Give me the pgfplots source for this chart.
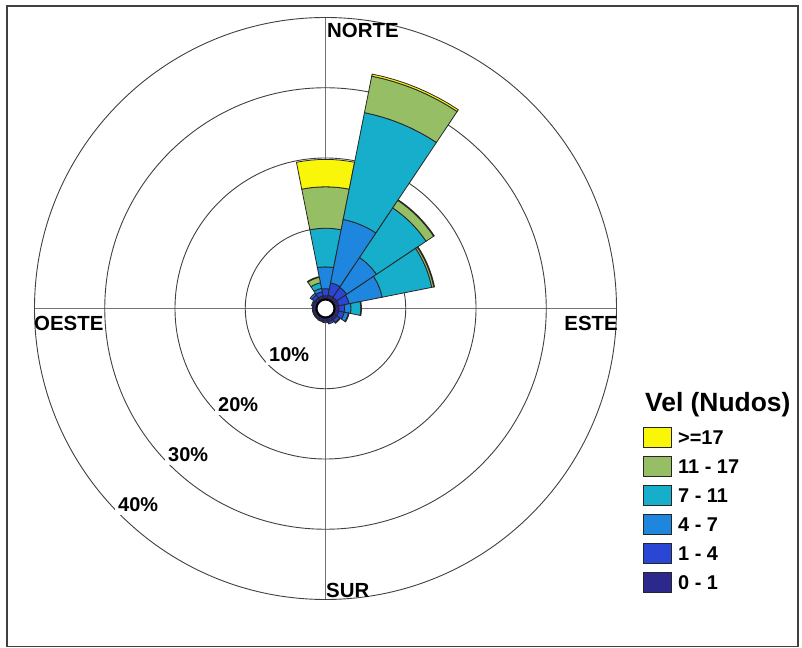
\documentclass[border=0pt]{standalone}
\usepackage{pgfplots}
\usepackage{pgfplotstable}
\pgfplotsset{compat=1.18}
\usepackage{fontspec}
\setmainfont{Liberation Sans}

\definecolor{cA}{RGB}{44,40,140}   % 0-1
\definecolor{cB}{RGB}{42,70,212}   % 1-4
\definecolor{cC}{RGB}{30,134,222}  % 4-7
\definecolor{cD}{RGB}{22,174,202}  % 7-11
\definecolor{cE}{RGB}{150,190,100} % 11-17
\definecolor{cF}{RGB}{250,246,10}  % >=17

% percentage of time per direction (16 sectors, from N clockwise) and speed class
\pgfplotstableread{
dir c1 c2 c3 c4 c5 c6
0  0.40 1.00 3.10 5.50 5.90 3.90
1  0.50 1.80 9.20 15.50 5.30 0.30
2  0.50 1.70 5.10 8.50 1.30 0.10
3  0.50 1.50 4.80 7.20 0.30 0.10
4  0.50 0.80 0.90 1.40 0.10 0.00
5  0.50 0.80 0.60 0.10 0.00 0.00
6  0.50 0.50 0.10 0.00 0.00 0.00
7  0.50 0.30 0.00 0.00 0.00 0.00
8  0.40 0.20 0.00 0.00 0.00 0.00
9  0.40 0.10 0.00 0.00 0.00 0.00
10 0.35 0.10 0.00 0.00 0.00 0.00
11 0.35 0.10 0.00 0.00 0.00 0.00
12 0.35 0.10 0.00 0.00 0.00 0.00
13 0.40 0.20 0.00 0.00 0.00 0.00
14 0.40 0.50 0.30 0.00 0.00 0.00
15 0.40 0.60 0.50 0.80 0.80 0.10
}\windtable

\newcommand\cx{325.5}
\newcommand\cy{339.5}
\newcommand\rzero{10}
\newcommand\kscale{7.025}

% build the sector polygons from the table
\gdef\allplots{}
\foreach \d in {0,...,15}{%
  \xdef\cum{0}%
  \foreach \c in {1,...,6}{%
    \pgfplotstablegetelem{\d}{c\c}\of\windtable
    \let\val\pgfplotsretval
    \pgfmathsetmacro\rin{\rzero+\kscale*\cum}%
    \pgfmathsetmacro\newcum{\cum+\val}%
    \xdef\cum{\newcum}%
    \pgfmathsetmacro\rout{\rzero+\kscale*\cum}%
    \edef\col{\ifcase\c\or cA\or cB\or cC\or cD\or cE\or cF\fi}%
    \ifdim\val pt>0pt
      \gdef\coords{}%
      \foreach \k in {0,...,8}{%
        \pgfmathsetmacro\ang{22.5*\d-11.25+2.8125*\k}%
        \pgfmathsetmacro\px{\cx+\rout*sin(\ang)}%
        \pgfmathsetmacro\py{\cy+\rout*cos(\ang)}%
        \xdef\coords{\coords (\px,\py)}%
      }%
      \foreach \k in {8,7,...,0}{%
        \pgfmathsetmacro\ang{22.5*\d-11.25+2.8125*\k}%
        \pgfmathsetmacro\px{\cx+\rin*sin(\ang)}%
        \pgfmathsetmacro\py{\cy+\rin*cos(\ang)}%
        \xdef\coords{\coords (\px,\py)}%
      }%
      \xdef\allplots{\unexpanded\expandafter{\allplots}%
        \noexpand\addplot[fill=\col, draw=black!85, line width=0.8bp] coordinates {\coords} -- cycle;}%
    \fi
  }%
}

\begin{document}
\begin{tikzpicture}
\begin{axis}[
  width=802bp, height=648bp, scale only axis,
  xmin=0, xmax=802, ymin=0, ymax=648,
  hide axis, clip=false]

% full picture area
\path (axis cs:0,0) rectangle (axis cs:802,648);

% frame
\draw[line width=1.5bp, black!75] (axis cs:7,642) rectangle (axis cs:798,1.5);

% radial lines
\draw[line width=0.7bp, black!55] (axis cs:\cx,\cy-291) -- (axis cs:\cx,\cy+291);
\draw[line width=0.7bp, black!55] (axis cs:\cx-291,\cy) -- (axis cs:\cx+291,\cy);

% circles 10, 20, 30, 40 %
\draw[line width=0.9bp, black!75] (axis cs:\cx,\cy) circle[radius=80.25];
\draw[line width=0.9bp, black!75] (axis cs:\cx,\cy) circle[radius=150.5];
\draw[line width=0.9bp, black!75] (axis cs:\cx,\cy) circle[radius=220.75];
\draw[line width=0.9bp, black!75] (axis cs:\cx,\cy) circle[radius=291];

% percent labels
\begin{scope}[every node/.style={anchor=base west, fill=white, inner sep=3bp,
   font=\bfseries\fontsize{20}{24}\selectfont}]
\node at (axis cs:266,286) {10\%};
\node at (axis cs:215,236) {20\%};
\node at (axis cs:165,186) {30\%};
\node at (axis cs:115,136) {40\%};
\end{scope}

% sectors
\allplots

% central hole
\draw[line width=2bp, black, fill=white] (axis cs:\cx,\cy) circle[radius=9];

% direction labels
\begin{scope}[every node/.style={inner sep=0pt, font=\bfseries\fontsize{20.5}{24}\selectfont}]
\node[anchor=base west] at (axis cs:327,610) {NORTE};
\node[anchor=base west] at (axis cs:34,317) {OESTE};
\node[anchor=base east] at (axis cs:618,317) {ESTE};
\node[anchor=base west] at (axis cs:326,50) {SUR};
\end{scope}

% legend
\node[anchor=base west, inner sep=0pt, font=\bfseries\fontsize{26.5}{30}\selectfont]
  at (axis cs:645,236) {Vel (Nudos)};
\begin{scope}[every node/.style={anchor=base west, inner sep=0pt, font=\bfseries\fontsize{20}{24}\selectfont}]
\draw[fill=cF, draw=black!85, line width=0.8bp] (axis cs:643,221) rectangle (axis cs:671,201);
\node at (axis cs:678,203) {>=17};
\draw[fill=cE, draw=black!85, line width=0.8bp] (axis cs:643,192) rectangle (axis cs:671,172);
\node at (axis cs:678,174) {11 - 17};
\draw[fill=cD, draw=black!85, line width=0.8bp] (axis cs:643,163) rectangle (axis cs:671,143);
\node at (axis cs:678,145) {7 - 11};
\draw[fill=cC, draw=black!85, line width=0.8bp] (axis cs:643,134) rectangle (axis cs:671,114);
\node at (axis cs:678,116) {4 - 7};
\draw[fill=cB, draw=black!85, line width=0.8bp] (axis cs:643,105) rectangle (axis cs:671,85);
\node at (axis cs:678,87) {1 - 4};
\draw[fill=cA, draw=black!85, line width=0.8bp] (axis cs:643,76) rectangle (axis cs:671,56);
\node at (axis cs:678,58) {0 - 1};
\end{scope}

\end{axis}
\end{tikzpicture}
\end{document}
